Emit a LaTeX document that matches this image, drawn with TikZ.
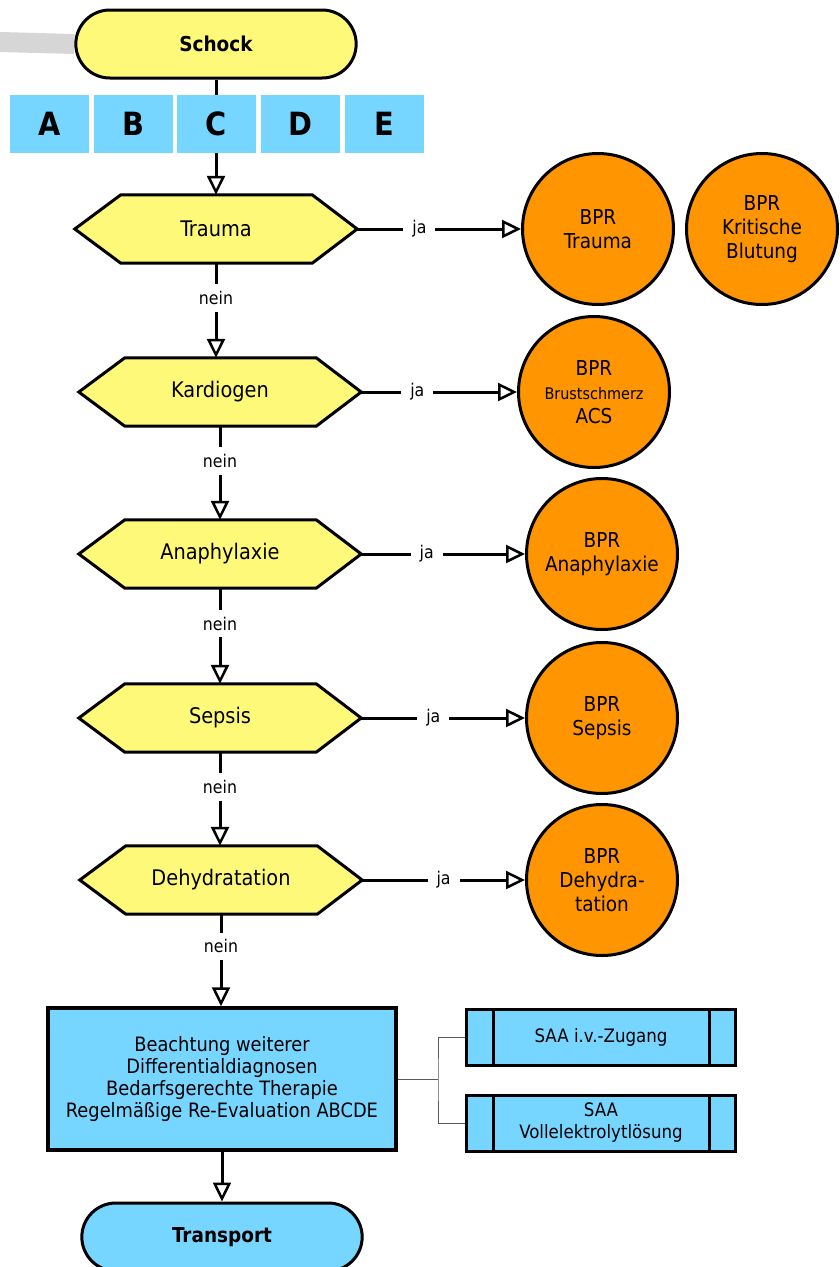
\documentclass[tikz,border=0pt]{standalone}
\usepackage{fontspec}
\setmainfont{DejaVu Sans Condensed}
\usetikzlibrary{arrows.meta,shapes.misc,backgrounds}
\definecolor{termyellow}{HTML}{FFF97A}
\definecolor{boxblue}{HTML}{76D6FF}
\definecolor{bprorange}{HTML}{FF9500}
\definecolor{bandgray}{HTML}{D6D6D6}
\begin{document}
\begin{tikzpicture}[x=1pt,y=-1pt,
  every node/.style={align=center},
  terminal/.style={rounded rectangle, draw, line width=3pt, minimum width=287pt, minimum height=68pt, font=\bfseries\fontsize{20.5}{24}\selectfont},
  decision/.style={minimum width=282pt, minimum height=68pt, inner sep=0pt, font=\fontsize{21.5}{24}\selectfont},
  hexagon/.style={line width=3pt, fill=termyellow, line join=miter},
  bpr/.style={circle, draw, line width=3pt, fill=bprorange, minimum size=151pt, inner sep=0pt, font=\fontsize{20.5}{24}\selectfont},
  letterbox/.style={fill=boxblue, minimum width=79pt, minimum height=58pt, inner sep=0pt, font=\bfseries\fontsize{32}{32}\selectfont},
  saabox/.style={draw, line width=3pt, fill=boxblue, minimum width=269pt, minimum height=56pt, inner sep=0pt, font=\fontsize{18.5}{22}\selectfont},
  flow/.style={line width=3pt, -{Triangle[open, width=18pt, length=19pt, line width=2.5pt]}},
  lbl/.style={fill=white, inner xsep=9pt, inner ysep=7pt, font=\fontsize{17.5}{20}\selectfont},
  thinline/.style={line width=1pt, draw=black!65}
]
\useasboundingbox (0,0) rectangle (839,1267);

% start terminal and the grey band leading into it
\node[terminal, fill=termyellow] (schock) at (216,44) {Schock};
\coordinate (bandstart) at (0,42);
\begin{pgfonlayer}{background}
  \draw[bandgray, line width=20pt] (bandstart) -- (schock.west);
\end{pgfonlayer}

% decision chain (hexagon outlines are drawn behind the labels)
\node[decision] (trauma) at (216,229) {Trauma};
\node[decision] (kardio) at (220,392) {Kardiogen};
\node[decision] (anaph) at (220,554) {Anaphylaxie};
\node[decision] (sepsis) at (220,718) {Sepsis};
\node[decision] (dehyd) at (221,880) {Dehydratation};
\begin{pgfonlayer}{background}
  \foreach \n in {trauma,kardio,anaph,sepsis,dehyd}{
    \draw[hexagon] (\n.west) -- ([xshift=46pt]\n.north west) -- ([xshift=-45pt]\n.north east)
      -- (\n.east) -- ([xshift=-45pt]\n.south east) -- ([xshift=46pt]\n.south west) -- cycle;
  }
\end{pgfonlayer}

% BPR circles
\node[bpr] (bprtrauma) at (598,229) {BPR\\Trauma};
\node[bpr] (bprblut) at (762,229) {BPR\\Kritische\\Blutung};
\node[bpr] (bprbrust) at (594,392) {BPR\\{\fontsize{16}{20}\selectfont Brustschmerz}\\ACS};
\node[bpr] (bpranaph) at (602,554) {BPR\\Anaphylaxie};
\node[bpr] (bprsepsis) at (602,718) {BPR\\Sepsis};
\node[bpr] (bprdehyd) at (602,880) {BPR\\Dehydra-\\tation};

% measures box, SAA boxes and final terminal
\node[draw, line width=3.5pt, fill=boxblue, minimum width=348pt, minimum height=142pt, font=\fontsize{19.8}{22}\selectfont] (measures) at (222,1079)
  {Beachtung weiterer\\Differentialdiagnosen\\Bedarfsgerechte Therapie\\Regelmäßige Re-Evaluation ABCDE};
\node[saabox] (saa1) at (601,1037) {SAA i.v.-Zugang};
\node[saabox] (saa2) at (601,1123) {SAA\\Vollelektrolytlösung};
\foreach \b in {saa1,saa2}{
  \draw[line width=3pt] ([xshift=28pt]\b.north west) -- ([xshift=28pt]\b.south west);
  \draw[line width=3pt] ([xshift=-28pt]\b.north east) -- ([xshift=-28pt]\b.south east);
}
\node[terminal, fill=boxblue] (transport) at (222,1237) {Transport};

% Schock -> Trauma, running behind the C box
\draw[flow] (schock.south) -- (schock.south |- trauma.north);

% ABCDE strip
\node[letterbox] (la) at (49.5,124) {A};
\node[letterbox] (lb) at (133.5,124) {B};
\node[letterbox] (lc) at (216.5,124) {C};
\node[letterbox] (ld) at (300.5,124) {D};
\node[letterbox] (le) at (384.5,124) {E};

% "nein" branches
\draw[flow] (trauma.south) -- node[lbl, pos=0.37]{nein} (trauma.south |- kardio.north);
\draw[flow] (kardio.south) -- node[lbl, pos=0.37]{nein} (kardio.south |- anaph.north);
\draw[flow] (anaph.south) -- node[lbl, pos=0.37]{nein} (anaph.south |- sepsis.north);
\draw[flow] (sepsis.south) -- node[lbl, pos=0.37]{nein} (sepsis.south |- dehyd.north);
\draw[flow] (dehyd.south) -- node[lbl, pos=0.35]{nein} (dehyd.south |- measures.north);
\draw[flow] (measures.south) -- (measures.south |- transport.north);

% "ja" branches
\draw[flow] (trauma.east) -- node[lbl, pos=0.38]{ja} (bprtrauma.west);
\draw[flow] (kardio.east) -- node[lbl, pos=0.36]{ja} (bprbrust.west);
\draw[flow] (anaph.east) -- node[lbl, pos=0.40]{ja} (bpranaph.west);
\draw[flow] (sepsis.east) -- node[lbl, pos=0.44]{ja} (bprsepsis.west);
\draw[flow] (dehyd.east) -- node[lbl, pos=0.50]{ja} (bprdehyd.west);

% bracket to the SAA boxes
\coordinate (fork) at (438,1079);
\draw[thinline] (measures.east) -- (fork);
\draw[thinline] (saa1.west) -| (fork) |- (saa2.west);
\end{tikzpicture}
\end{document}
